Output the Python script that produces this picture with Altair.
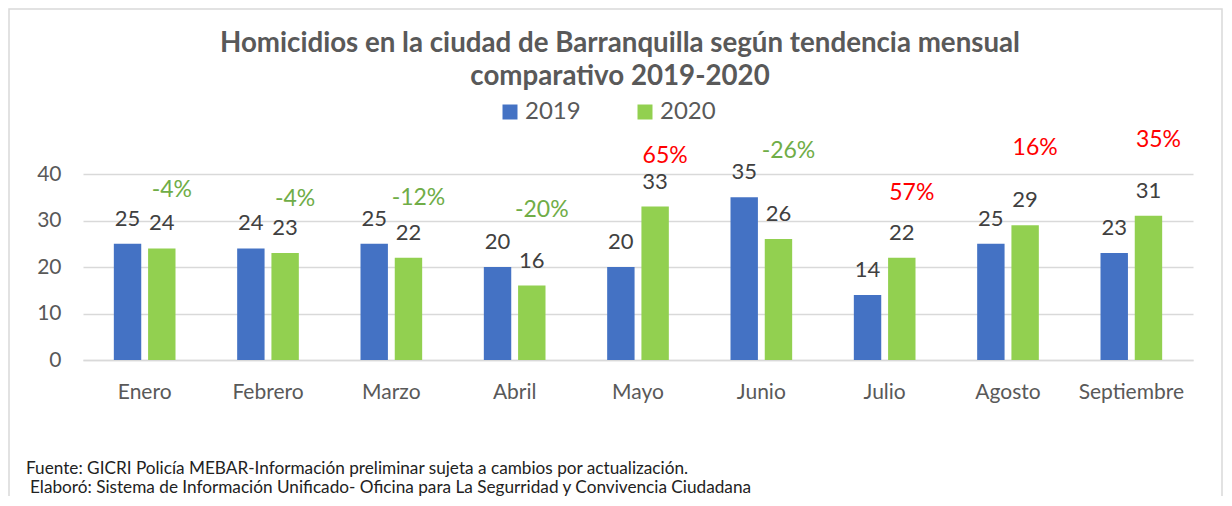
import altair as alt
import pandas as pd

months = ["Enero", "Febrero", "Marzo", "Abril", "Mayo", "Junio", "Julio", "Agosto", "Septiembre"]
values_2019 = [25, 24, 25, 20, 20, 35, 14, 25, 23]
values_2020 = [24, 23, 22, 16, 33, 26, 22, 29, 31]
# height (in axis units) at which each percentage note sits in the reference
pct_label_level = [35.1, 33.1, 33.3, 30.8, 42.4, 43.4, 34.4, 44.1, 45.8]
years = ["2019", "2020"]
year_colors = ["#4472C4", "#92D050"]
y_ticks = [0, 10, 20, 30, 40]

title_lines = [
    "Homicidios en la ciudad de Barranquilla según tendencia mensual",
    "comparativo 2019-2020",
]
footer_1 = "Fuente: GICRI Policía MEBAR-Información preliminar sujeta a cambios por actualización."
footer_2 = "Elaboró: Sistema de Información Unificado- Oficina para La Segurridad y Convivencia Ciudadana"

FONT = "Lato"

rows = []
for m, a, b in zip(months, values_2019, values_2020):
    rows.append({"month": m, "year": "2019", "value": a})
    rows.append({"month": m, "year": "2020", "value": b})
long_df = pd.DataFrame(rows)
wide_df = pd.DataFrame({"month": months, "v2019": values_2019, "v2020": values_2020,
                        "level": pct_label_level})

x_enc = alt.X("month:N", sort=months,
              scale=alt.Scale(paddingInner=0.5, paddingOuter=0.25),
              axis=alt.Axis(title=None, labelAngle=0, ticks=False, domain=True,
                            domainColor="#d9d9d9", domainWidth=1.5, labelFontSize=21,
                            labelColor="#595959", labelPadding=21, labelFont=FONT))
y_axis = alt.Axis(title=None, values=y_ticks, ticks=False, domain=False,
                  gridColor="#d9d9d9", gridWidth=1.5, labelFontSize=21,
                  labelColor="#595959", labelPadding=22, labelFont=FONT)
y_scale = alt.Scale(domain=[0, 40], nice=False)
xoff = alt.XOffset("year:N", scale=alt.Scale(domain=years, paddingInner=0.2))

bars = alt.Chart(long_df).mark_bar().encode(
    x=x_enc,
    y=alt.Y("value:Q", scale=y_scale, axis=y_axis),
    xOffset=xoff,
    color=alt.Color("year:N", scale=alt.Scale(domain=years, range=year_colors),
                    legend=alt.Legend(title=None, orient="none", legendX=415, legendY=-74,
                                      direction="horizontal", symbolType="square",
                                      symbolSize=225, symbolStrokeWidth=0,
                                      labelFontSize=24, labelColor="#595959",
                                      labelFont=FONT, columnPadding=52, labelOffset=3)),
)

value_labels = alt.Chart(long_df).mark_text(
    baseline="alphabetic", dy=-18, fontSize=22, color="#404040", font=FONT
).encode(
    x=x_enc,
    y=alt.Y("value:Q", scale=y_scale, axis=y_axis),
    xOffset=xoff,
    text="value:Q",
)

pct_labels = alt.Chart(wide_df).transform_calculate(
    pct="round((datum.v2020 - datum.v2019) / datum.v2019 * 100)",
    label="datum.pct + '%'",
    year="'2020'",
).mark_text(baseline="alphabetic", dx=10, fontSize=23, font=FONT).encode(
    x=x_enc,
    y=alt.Y("level:Q", scale=y_scale, axis=y_axis),
    xOffset=xoff,
    text="label:N",
    color=alt.condition("datum.pct < 0", alt.value("#70AD47"), alt.value("#FF0000")),
)

one = pd.DataFrame({"k": [0]})

title = alt.Chart(one).mark_text(
    text=title_lines, fontSize=27.7, fontWeight="bold", font=FONT, color="#595959",
    lineHeight=33, align="center", baseline="alphabetic"
).encode(x=alt.value(537), y=alt.value(-122))

foot1 = alt.Chart(one).mark_text(
    text=footer_1, fontSize=17.2, font=FONT, color="#222222", align="left", baseline="alphabetic"
).encode(x=alt.value(-57), y=alt.value(300))
foot2 = alt.Chart(one).mark_text(
    text=footer_2, fontSize=17.2, font=FONT, color="#222222", align="left", baseline="alphabetic"
).encode(x=alt.value(-53), y=alt.value(319))

border = alt.Chart(one).mark_rect(
    fillOpacity=0, stroke="#d9d9d9", strokeWidth=1.5
).encode(x=alt.value(-74), x2=alt.value(1139), y=alt.value(-165), y2=alt.value(345))

chart = alt.layer(border, bars, value_labels, pct_labels, title, foot1, foot2).properties(
    width=1110, height=186,
    autosize=alt.AutoSizeParams(type="none"),
    padding={"left": 75, "top": 166, "right": 30, "bottom": 136},
    background="white",
).configure_view(stroke=None)

chart.save("out.html", embed_options={"renderer": "svg", "actions": False})
